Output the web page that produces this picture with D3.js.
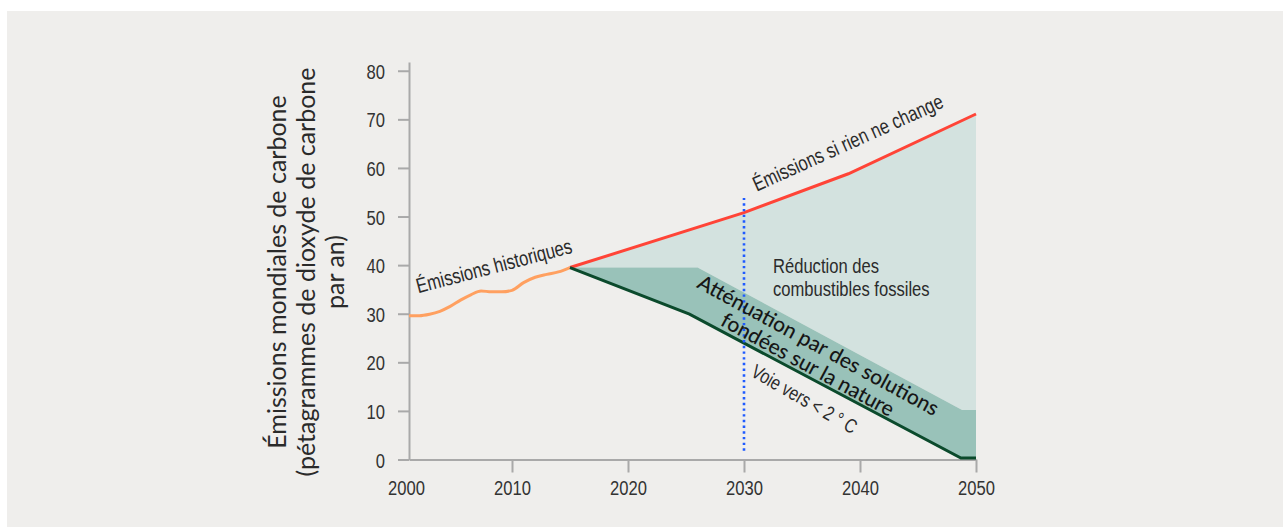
<!DOCTYPE html>
<html><head><meta charset="utf-8">
<script src="https://cdn.jsdelivr.net/npm/d3@7"></script>
<style>
html,body{margin:0;padding:0;background:#fff;}
svg{display:block;}
.narrow{font-family:"Liberation Sans",Arial,sans-serif;}
.geo{font-family:Lato,"Noto Sans",sans-serif;}
</style></head><body>
<svg id="chart" width="1283" height="527"></svg>
<script>
// ---- data ----
const xTicks = [2000, 2010, 2020, 2030, 2040, 2050];
const yTicks = [0, 10, 20, 30, 40, 50, 60, 70, 80];

const histYears  = [2000, 2001, 2002, 2003, 2004, 2005, 2006, 2007, 2008, 2009, 2010, 2011, 2012, 2013, 2014, 2015];
const histValues = [29.6, 29.6, 29.9, 30.5, 31.5, 32.8, 33.9, 34.7, 34.5, 34.5, 34.8, 36.4, 37.5, 38.1, 38.6, 39.5];

const bauYears  = [2015, 2030, 2039, 2050];
const bauValues = [39.5, 50.8, 58.8, 71.1];

const pathYears  = [2015, 2025.3, 2048.7, 2050];
const pathValues = [39.5, 29.9, 0.3, 0.3];

const natureTopYears  = [2015, 2026.0, 2048.8, 2050];
const natureTopValues = [39.5, 39.5, 10.2, 10.2];

const markerYear = 2030;
const markerRange = [1.8, 53.8];

const yTitleLines = ["Émissions mondiales de carbone", "(pétagrammes de dioxyde de carbone", "par an)"];

// ---- drawing ----
const NS = 0.79; // horizontal squeeze for condensed text
const svg = d3.select("#chart");
const zip = (xs, vs) => xs.map((x, i) => ({year: x, value: vs[i]}));
const hist = zip(histYears, histValues);
const bau = zip(bauYears, bauValues);
const path2 = zip(pathYears, pathValues);
const natTop = zip(natureTopYears, natureTopValues);

svg.append("rect").attr("x", 7).attr("y", 11).attr("width", 1276).attr("height", 516).attr("fill", "#efeeec");

const x = d3.scaleLinear().domain([2000, 2010, 2050]).range([409, 512, 976]);
const y = d3.scaleLinear().domain([0, 81.8]).range([459.5, 62]);

const line = d3.line().x(d => x(d.year)).y(d => y(d.value));

// areas
const lightPoly = bau.concat(natTop.slice().reverse());
svg.append("path").attr("d", line(lightPoly) + "Z").attr("fill", "#d3e2df");
const midPoly = natTop.concat(path2.slice().reverse());
svg.append("path").attr("d", line(midPoly) + "Z").attr("fill", "#99c2b9");

// axes
const gy = svg.append("g").attr("transform", `translate(${x(2000)},0)`)
  .call(d3.axisLeft(y).tickValues(yTicks).tickSize(11).tickSizeOuter(0).tickPadding(13));
const gx = svg.append("g").attr("transform", `translate(0,${y(0)})`)
  .call(d3.axisBottom(x).tickValues(xTicks).tickFormat(d3.format("d")).tickSize(13).tickSizeOuter(0));
[gy, gx].forEach(g => {
  g.select(".domain").attr("stroke", "#a9a9a9").attr("stroke-width", 2);
  g.selectAll(".tick line").attr("stroke", "#a9a9a9").attr("stroke-width", 2);
  g.selectAll(".tick text").attr("class", "narrow").attr("fill", "#333").style("font-size", "21px")
    .attr("transform", `scale(${NS},1)`);
});
gx.selectAll(".tick").filter(d => d === 2000).select("line").remove();
gx.selectAll(".tick").filter(d => d === 2000).select("text").attr("x", -3 / NS);
gx.selectAll(".tick text").attr("y", 36).attr("dy", 0);
gy.selectAll(".tick text").attr("x", -24 / NS).attr("dy", "0.36em");

// lines
svg.append("path").datum(hist).attr("d", line.curve(d3.curveMonotoneX)).attr("fill", "none")
  .attr("stroke", "#ffa060").attr("stroke-width", 3);
line.curve(d3.curveLinear);
svg.append("path").datum(bau).attr("d", line).attr("fill", "none")
  .attr("stroke", "#ff4437").attr("stroke-width", 3);
svg.append("path").datum(path2).attr("d", line).attr("fill", "none")
  .attr("stroke", "#0b4a2c").attr("stroke-width", 3);

// 2030 marker
svg.append("line").attr("x1", x(markerYear)).attr("x2", x(markerYear))
  .attr("y1", y(markerRange[0])).attr("y2", y(markerRange[1]))
  .attr("stroke", "#1f5bff").attr("stroke-width", 2.6).attr("stroke-dasharray", "2.4 3.3");

// labels
function rotLabel(year, value, angle, text, size) {
  return svg.append("text").attr("class", "narrow")
    .attr("transform", `translate(${x(year)},${y(value)}) rotate(${angle}) scale(${NS},1)`)
    .attr("fill", "#2b2b2b").style("font-size", size + "px").text(text);
}
rotLabel(2000.9, 34.2, -14.7, "Émissions historiques", 21);
rotLabel(2031.1, 55.1, -24.3, "Émissions si rien ne change", 21);
rotLabel(2030.5, 17.3, 30, "Voie vers < 2 ° C", 20);

const red = svg.append("text").attr("class", "narrow").attr("fill", "#2b2b2b").style("font-size", "21px")
  .attr("transform", `translate(${x(2032.5)},${y(38.4)}) scale(${NS},1)`);
red.append("tspan").attr("x", 0).attr("y", 0).text("Réduction des");
red.append("tspan").attr("x", 0).attr("y", 23).text("combustibles fossiles");

const att = svg.append("text").attr("class", "geo")
  .attr("transform", `translate(${x(2036.1)},${y(22.2)}) rotate(28.5)`)
  .attr("text-anchor", "middle").attr("fill", "#161616").style("font-size", "21px").style("font-weight", 500);
att.append("tspan").attr("x", 0).attr("y", 0).text("Atténuation par des solutions");
att.append("tspan").attr("x", 0).attr("y", 22).text("fondées sur la nature");

const yt = svg.append("text").attr("class", "geo").attr("fill", "#2a2a2a")
  .attr("transform", `translate(286,272) rotate(-90)`).attr("text-anchor", "middle").style("font-size", "25px");
yTitleLines.forEach((t, i) => yt.append("tspan").attr("x", 0).attr("y", i * 29).text(t));
</script></body></html>
